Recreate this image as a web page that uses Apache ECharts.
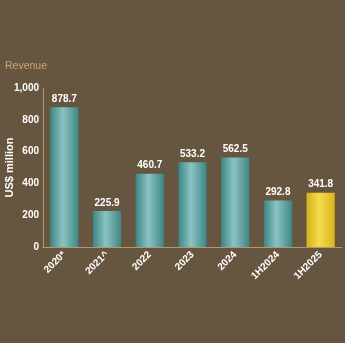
<!DOCTYPE html>
<html><head><meta charset="utf-8">
<script src="https://cdn.jsdelivr.net/npm/echarts@6/dist/echarts.min.js"></script>
<style>html,body{margin:0;padding:0;background:#665640;}#c{width:345px;height:343px;}</style>
</head><body><div id="c"></div>
<script>
const categories = ['2020*', '2021^', '2022', '2023', '2024', '1H2024', '1H2025'];
const revenue = [878.7, 225.9, 460.7, 533.2, 562.5, 292.8, 341.8];
const yTicks = [0, 200, 400, 600, 800, 1000];

const teal = {type:'linear',x:0,y:0,x2:1,y2:0,colorStops:[
  {offset:0,color:'#3d8585'},{offset:0.45,color:'#8cc3c2'},{offset:1,color:'#3f8686'}]};
const gold = {type:'linear',x:0,y:0,x2:1,y2:0,colorStops:[
  {offset:0,color:'#d6b21c'},{offset:0.45,color:'#f3dc4a'},{offset:1,color:'#d9b41e'}]};

const chart = echarts.init(document.getElementById('c'));
chart.setOption({
  backgroundColor:'#665640',
  animation:false,
  title:{text:'Revenue',left:0,top:56,textStyle:{color:'#c8a878',fontSize:10.5,fontWeight:'normal',fontFamily:'Liberation Sans'}},
  grid:{left:43,right:3,top:88,bottom:96,containLabel:false,outerBoundsMode:'none'},
  xAxis:{type:'category',data:categories,
    axisLine:{lineStyle:{color:'#b09870',width:1}},axisTick:{show:false},
    axisLabel:{color:'#ffffff',fontWeight:'bold',fontSize:10,rotate:45,fontFamily:'Liberation Sans',margin:6}},
  yAxis:{type:'value',min:0,max:1000,interval:200,
    name:'US$ million',nameLocation:'middle',nameGap:28,nameMoveOverlap:false,
    nameTextStyle:{color:'#ffffff',fontWeight:'bold',fontSize:11,fontFamily:'Liberation Sans'},
    axisLine:{show:true,lineStyle:{color:'#b09870'}},axisTick:{show:false},splitLine:{show:false},
    axisLabel:{color:'#ffffff',fontWeight:'bold',fontSize:10,fontFamily:'Liberation Sans',margin:4,
      formatter:v=>yTicks.includes(v)?v.toLocaleString('en-US'):''}},
  series:[{type:'bar',barWidth:'66%',
    data:revenue.map((v,i)=>({value:v,itemStyle:{color:i===revenue.length-1?gold:teal}})),
    label:{show:true,position:'top',color:'#ffffff',fontWeight:'bold',fontSize:10,fontFamily:'Liberation Sans',distance:3,
      formatter:p=>p.value.toFixed(1)}}]
});
</script></body></html>
